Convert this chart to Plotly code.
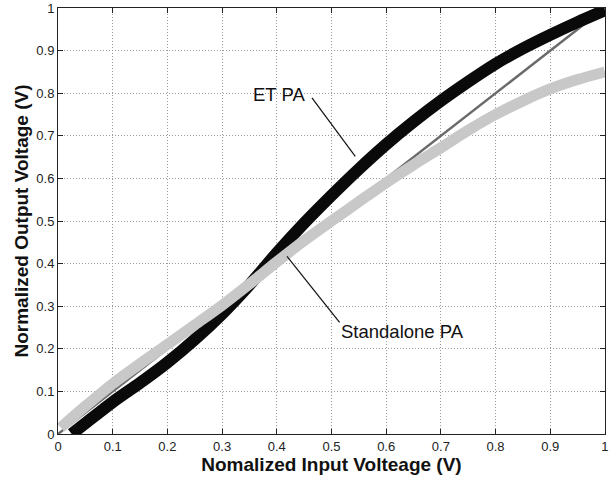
import plotly.graph_objects as go

# Data
et_x = [0.025, 0.05, 0.1, 0.15, 0.2, 0.25, 0.3, 0.35, 0.4, 0.45, 0.5,
        0.55, 0.6, 0.65, 0.7, 0.75, 0.8, 0.85, 0.9, 0.95, 1.0]
et_y = [0.0, 0.025, 0.075, 0.12, 0.168, 0.222, 0.282, 0.35, 0.425, 0.495, 0.56,
        0.622, 0.68, 0.733, 0.782, 0.827, 0.869, 0.905, 0.937, 0.967, 0.995]

sa_x = [0.005, 0.05, 0.1, 0.15, 0.2, 0.25, 0.3, 0.35, 0.4, 0.45, 0.5,
        0.55, 0.6, 0.65, 0.7, 0.75, 0.8, 0.85, 0.9, 0.95, 1.0]
sa_y = [0.015, 0.065, 0.118, 0.165, 0.21, 0.256, 0.302, 0.352, 0.404, 0.454, 0.5,
        0.545, 0.59, 0.632, 0.672, 0.713, 0.75, 0.782, 0.81, 0.832, 0.85]

ideal_x = [0.0, 1.0]
ideal_y = [0.0, 1.0]

tick_vals = [0, 0.1, 0.2, 0.3, 0.4, 0.5, 0.6, 0.7, 0.8, 0.9, 1]
tick_text = ["0", "0.1", "0.2", "0.3", "0.4", "0.5", "0.6", "0.7", "0.8", "0.9", "1"]

FONT = "Arial, Liberation Sans, sans-serif"

fig = go.Figure()
fig.add_trace(go.Scatter(x=ideal_x, y=ideal_y, mode="lines",
                         line=dict(color="#6a6a6a", width=2.5), showlegend=False))
fig.add_trace(go.Scatter(x=et_x, y=et_y, mode="lines",
                         line=dict(color="#0a0a0a", width=12, shape="spline", smoothing=0.8),
                         showlegend=False))
fig.add_trace(go.Scatter(x=sa_x, y=sa_y, mode="lines",
                         line=dict(color="#c8c8c8", width=11, shape="spline", smoothing=0.8),
                         showlegend=False))

axis_common = dict(
    range=[0, 1.0001], tickvals=tick_vals, ticktext=tick_text,
    showgrid=True, gridcolor="#9a9a9a", griddash="1px,2px", gridwidth=1,
    zeroline=False, showline=True, linecolor="#222222", linewidth=1,
    mirror="ticks", ticks="inside", ticklen=5, tickcolor="#222222",
    tickfont=dict(family=FONT, size=13, color="#222222"),
    automargin=False, ticklabeloverflow="allow",
)

fig.update_layout(
    width=612, height=479,
    margin=dict(l=58, r=7, t=8, b=45),
    paper_bgcolor="white", plot_bgcolor="white",
    xaxis=dict(**axis_common,
               title=dict(text="<b>Nomalized Input Volteage (V)</b>",
                          font=dict(family=FONT, size=19, color="#111111"), standoff=2)),
    yaxis=dict(**axis_common,
               title=dict(text="<b>Normalized Output Voltage (V)</b>",
                          font=dict(family=FONT, size=19, color="#111111"), standoff=2)),
    shapes=[
        dict(type="line", xref="x", yref="y", x0=0.4644, y0=0.789, x1=0.5435, y1=0.652,
             line=dict(color="#111111", width=1.2)),
        dict(type="line", xref="x", yref="y", x0=0.4187, y0=0.417, x1=0.5148, y1=0.262,
             line=dict(color="#111111", width=1.2)),
    ],
    annotations=[
        dict(x=0.4045, y=0.798, xref="x", yref="y", text="ET PA", showarrow=False,
             font=dict(family=FONT, size=18.5, color="#111111")),
        dict(x=0.6305, y=0.2405, xref="x", yref="y", text="Standalone PA", showarrow=False,
             font=dict(family=FONT, size=18.5, color="#111111")),
    ],
)

fig.write_html(
    "out.html",
    config={"displayModeBar": False},
    post_script="document.body.style.margin='0';document.body.style.overflow='hidden';",
)
